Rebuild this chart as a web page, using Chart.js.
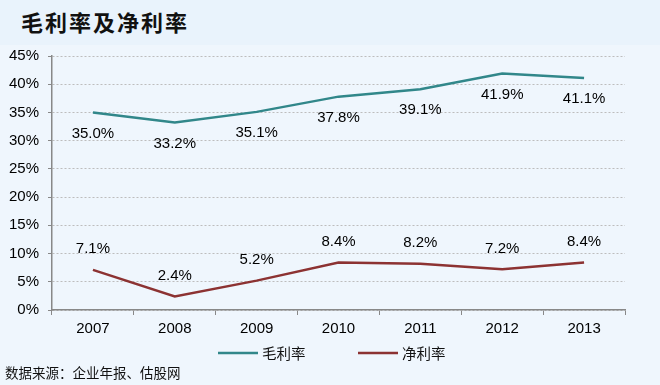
<!DOCTYPE html>
<html>
<head>
<meta charset="utf-8">
<script src="https://cdn.jsdelivr.net/npm/chart.js@4/dist/chart.umd.min.js"></script>
<style>
  html, body { margin: 0; padding: 0; }
  body { width: 660px; height: 385px; background: #eff6fd; position: relative; overflow: hidden; }
  .titlebar { position: absolute; left: 0; top: 0; width: 660px; height: 45px; background: #e9f3fc; }
  .title { position: absolute; left: 21px; top: 5px; font: bold 22px "Noto Sans CJK SC", sans-serif; letter-spacing: 2px; color: #111; }
  .source { position: absolute; left: 5px; top: 362px; font: 13.5px "Noto Sans CJK SC", sans-serif; color: #111; }
  #wrap { position: absolute; left: 0; top: 0; width: 660px; height: 385px; }
</style>
</head>
<body>
<div class="titlebar"></div>
<div class="title">毛利率及净利率</div>
<div id="wrap"><canvas id="chart"></canvas></div>
<div class="source">数据来源：企业年报、估股网</div>
<script>
const years = ["2007", "2008", "2009", "2010", "2011", "2012", "2013"];
const grossMargin = [35.0, 33.2, 35.1, 37.8, 39.1, 41.9, 41.1];
const netMargin = [7.1, 2.4, 5.2, 8.4, 8.2, 7.2, 8.4];
const seriesNames = ["毛利率", "净利率"];

// labels: gross sits under its line, net sits above
const pointLabels = {
    id: 'pointLabels',
    afterDatasetsDraw(chart) {
        const ctx = chart.ctx;
        ctx.save();
        ctx.font = '15px "Liberation Sans", Arial, sans-serif';
        ctx.fillStyle = '#000';
        ctx.textAlign = 'center';
        ctx.textBaseline = 'middle';
        chart.data.datasets.forEach((ds, i) => {
            const meta = chart.getDatasetMeta(i);
            meta.data.forEach((pt, j) => {
                const off = i === 0 ? 21 : -21;
                ctx.fillText(ds.data[j].toFixed(1) + '%', pt.x, pt.y + off);
            });
        });
        ctx.restore();
    }
};

const lineLegend = {
    id: 'lineLegend',
    afterDraw(chart) {
        const ctx = chart.ctx;
        const starts = [218, 358];
        ctx.save();
        ctx.font = '14.5px "Noto Sans CJK SC", sans-serif';
        ctx.textBaseline = 'middle';
        chart.data.datasets.forEach((ds, i) => {
            const x = starts[i], y = 353;
            ctx.strokeStyle = ds.borderColor;
            ctx.lineWidth = 2.5;
            ctx.beginPath();
            ctx.moveTo(x, y);
            ctx.lineTo(x + 40, y);
            ctx.stroke();
            ctx.fillStyle = '#111';
            ctx.fillText(ds.label, x + 44, y);
        });
        ctx.restore();
    }
};

new Chart(document.getElementById('chart'), {
    type: 'line',
    data: {
        labels: years,
        datasets: [
            {
                label: seriesNames[0],
                data: grossMargin,
                borderColor: '#31878a',
                borderWidth: 2.5,
                pointRadius: 0,
                tension: 0
            },
            {
                label: seriesNames[1],
                data: netMargin,
                borderColor: '#8c3232',
                borderWidth: 2.5,
                pointRadius: 0,
                tension: 0
            }
        ]
    },
    options: {
        responsive: true,
        maintainAspectRatio: false,
        animation: false,
        layout: { padding: { top: 56, right: 35, bottom: 45, left: 0 } },
        plugins: {
            legend: { display: false },
            tooltip: { enabled: false }
        },
        scales: {
            x: {
                offset: true,
                afterFit: (s) => { s.height = 30; },
                grid: {
                    offset: true,
                    drawOnChartArea: false,
                    drawTicks: true,
                    tickLength: 5,
                    color: '#888'
                },
                border: { color: '#888', width: 1.5 },
                ticks: {
                    padding: 5,
                    color: '#000',
                    font: { family: '"Liberation Sans", Arial, sans-serif', size: 15 }
                }
            },
            y: {
                min: 0,
                max: 45,
                afterFit: (s) => { s.width = 52; },
                grid: {
                    color: '#bdbdbd',
                    tickColor: '#888',
                    tickLength: 4,
                    tickBorderDash: [],
                    lineWidth: 1
                },
                border: { color: '#888', width: 1.5, dash: [2, 2] },
                ticks: {
                    stepSize: 5,
                    padding: 9,
                    color: '#000',
                    font: { family: '"Liberation Sans", Arial, sans-serif', size: 15 },
                    callback: (v) => v + '%'
                }
            }
        }
    },
    plugins: [pointLabels, lineLegend]
});
</script>
</body>
</html>
